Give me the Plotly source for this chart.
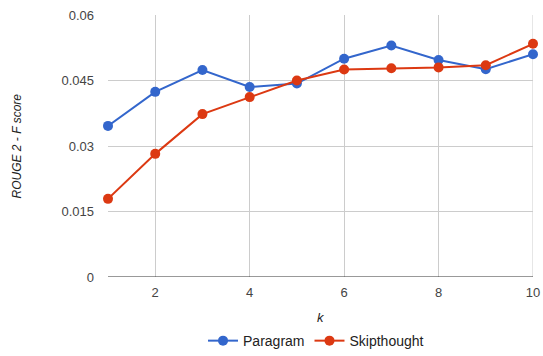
import plotly.graph_objects as go

k = [1, 2, 3, 4, 5, 6, 7, 8, 9, 10]
paragram = [0.0346, 0.0424, 0.0474, 0.0435, 0.0443, 0.0500, 0.0530, 0.0497, 0.0476, 0.0510]
skipthought = [0.0179, 0.0282, 0.0373, 0.0412, 0.0450, 0.0475, 0.0478, 0.0480, 0.0485, 0.0534]
y_ticks = [0, 0.015, 0.03, 0.045, 0.06]
y_tick_labels = ["0", "0.015", "0.03", "0.045", "0.06"]
x_ticks = [2, 4, 6, 8, 10]

font = "Liberation Sans, Arial, sans-serif"

fig = go.Figure()
fig.add_trace(go.Scatter(x=k, y=paragram, name="Paragram", mode="lines+markers",
                         line=dict(color="#3366cc", width=2), cliponaxis=False,
                         marker=dict(color="#3366cc", size=10)))
fig.add_trace(go.Scatter(x=k, y=skipthought, name="Skipthought", mode="lines+markers",
                         line=dict(color="#dc3912", width=2), cliponaxis=False,
                         marker=dict(color="#dc3912", size=10)))

fig.update_layout(
    width=543, height=356,
    margin=dict(l=108, r=10, t=15, b=79),
    paper_bgcolor="white", plot_bgcolor="white",
    font=dict(family=font, size=13, color="#444444"),
    showlegend=True,
    legend=dict(orientation="h", x=0.582, xref="container", xanchor="center",
                y=0.042, yref="container", yanchor="middle",
                font=dict(size=14, color="#222222")),
    xaxis=dict(range=[1, 10], tickvals=x_ticks, showgrid=True, gridcolor="#cccccc",
               zeroline=False, showline=False, ticks="", automargin=False,
               ticklabelstandoff=6, tickfont=dict(color="#444444")),
    yaxis=dict(range=[0, 0.06], tickvals=y_ticks, ticktext=y_tick_labels, showgrid=True,
               gridcolor="#cccccc", zeroline=False, showline=False, ticks="",
               automargin=False, ticklabelstandoff=13),
    annotations=[
        dict(text="<i>k</i>", x=0.5, xref="paper", y=-0.155, yref="paper",
             showarrow=False, font=dict(size=13, color="#222222"), yanchor="middle"),
        dict(text="<i>ROUGE 2 - F score</i>", x=-0.213, xref="paper", y=0.5, yref="paper",
             showarrow=False, textangle=-90, font=dict(size=12, color="#222222"),
             xanchor="center"),
    ],
    shapes=[
        dict(type="line", xref="paper", yref="y", x0=0, x1=1, y0=0, y1=0,
             line=dict(color="#333333", width=1)),
        dict(type="line", xref="x", yref="paper", x0=10, x1=10, y0=0, y1=1,
             line=dict(color="#cccccc", width=1), layer="below"),
    ],
)

fig.write_html("out.html", config={"displayModeBar": False},
               post_script="document.body.style.margin='0';")
